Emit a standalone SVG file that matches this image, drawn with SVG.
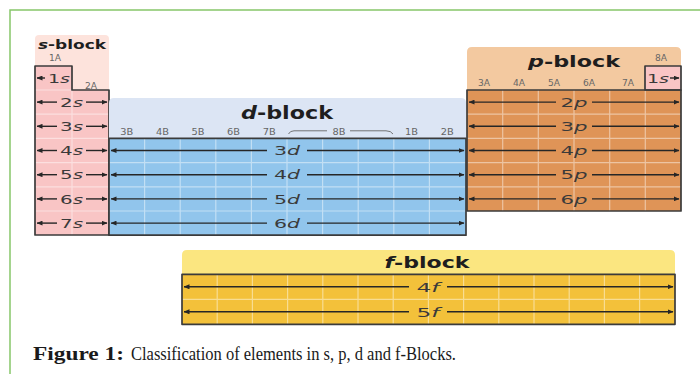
<svg xmlns="http://www.w3.org/2000/svg" width="700" height="374" viewBox="0 0 700 374">
  <style>
    .frame { fill: none; stroke: #86c66a; stroke-width: 1.5; }
    .outline { fill: none; stroke: #3b3b3b; stroke-width: 1.7; stroke-linejoin: round; }
    .grid { stroke: #ffffff; stroke-opacity: 0.45; stroke-width: 1.2; fill: none; }
    .arrow { stroke: #262626; stroke-width: 1.4; fill: none; }
    .orb { font-family: "DejaVu Sans", "Liberation Sans", sans-serif; font-size: 13px; fill: #3a3a3a; text-anchor: middle; }
    .title { font-family: "DejaVu Sans", "Liberation Sans", sans-serif; font-weight: bold; fill: #1e1e1e; text-anchor: middle; }
    .grp { font-family: "DejaVu Sans", "Liberation Sans", sans-serif; font-size: 8px; fill: #666; text-anchor: middle; }
    .it { font-style: italic; }
    .cap { font-family: "Liberation Serif", "Times New Roman", serif; font-size: 19.5px; fill: #1a1a1a; }
  </style>
  <defs>
    <marker id="head" viewBox="0 0 6 5" refX="5.5" refY="2.5" markerWidth="6" markerHeight="5" markerUnits="userSpaceOnUse" orient="auto-start-reverse">
      <path d="M0,0 L6,2.5 L0,5 z" fill="#262626"/>
    </marker>
  </defs>

  <rect width="700" height="374" fill="#ffffff"/>
  <!-- figure frame -->
  <path class="frame" d="M10,374 V10 H700"/>

  <!-- s-block -->
  <g id="s-block">
    <rect x="35" y="35" width="74" height="70" rx="4" fill="#fde3dc"/>
    <path d="M35,66 H72 V90 H109 V235 H35 Z" fill="#f9c5c5"/>
    <path class="grid" d="M72,90 V235 M35,90 H72 M35,114.2 H109 M35,138.4 H109 M35,162.6 H109 M35,186.8 H109 M35,211 H109"/>
    <path class="outline" d="M35,66 H72 V90 H109 V235 H35 Z"/>
    <text class="title" x="72" y="48.5" font-size="13" textLength="68" lengthAdjust="spacingAndGlyphs"><tspan class="it">s</tspan>-block</text>
    <text class="grp" x="55" y="61" textLength="12" lengthAdjust="spacingAndGlyphs">1A</text>
    <text class="grp" x="91" y="88.5" textLength="12" lengthAdjust="spacingAndGlyphs">2A</text>
    <text class="orb" x="59" y="82.5" textLength="22" lengthAdjust="spacingAndGlyphs">1<tspan class="it">s</tspan></text>
    <text class="orb" x="71.5" y="106.7" textLength="23" lengthAdjust="spacingAndGlyphs">2<tspan class="it">s</tspan></text>
    <text class="orb" x="71.5" y="130.9" textLength="23" lengthAdjust="spacingAndGlyphs">3<tspan class="it">s</tspan></text>
    <text class="orb" x="71.5" y="155.1" textLength="23" lengthAdjust="spacingAndGlyphs">4<tspan class="it">s</tspan></text>
    <text class="orb" x="71.5" y="179.3" textLength="23" lengthAdjust="spacingAndGlyphs">5<tspan class="it">s</tspan></text>
    <text class="orb" x="71.5" y="203.5" textLength="23" lengthAdjust="spacingAndGlyphs">6<tspan class="it">s</tspan></text>
    <text class="orb" x="71.5" y="227.7" textLength="23" lengthAdjust="spacingAndGlyphs">7<tspan class="it">s</tspan></text>
  </g>

  <!-- d-block -->
  <g id="d-block">
    <path d="M109,138.4 V103 Q109,98 114,98 H461 Q466,98 466,103 V138.4 Z" fill="#dce5f4"/>
    <rect x="109" y="138.4" width="357" height="96.8" fill="#91c5ec"/>
    <path class="grid" d="M144.6,138.4 V235.2 M180.2,138.4 V235.2 M215.8,138.4 V235.2 M251.4,138.4 V235.2 M287,138.4 V235.2 M322.6,138.4 V235.2 M358.2,138.4 V235.2 M393.8,138.4 V235.2 M429.4,138.4 V235.2 M109,162.6 H466 M109,186.8 H466 M109,211 H466"/>
    <rect class="outline" x="109" y="138.4" width="357" height="96.8"/>
    <text class="title" x="287" y="119" font-size="17.5" textLength="92" lengthAdjust="spacingAndGlyphs"><tspan class="it">d</tspan>-block</text>
    <text class="grp" x="126.8" y="135" textLength="13" lengthAdjust="spacingAndGlyphs">3B</text>
    <text class="grp" x="162.4" y="135" textLength="13" lengthAdjust="spacingAndGlyphs">4B</text>
    <text class="grp" x="198" y="135" textLength="13" lengthAdjust="spacingAndGlyphs">5B</text>
    <text class="grp" x="233.6" y="135" textLength="13" lengthAdjust="spacingAndGlyphs">6B</text>
    <text class="grp" x="269.2" y="135" textLength="13" lengthAdjust="spacingAndGlyphs">7B</text>
    <text class="grp" x="339" y="135" textLength="13" lengthAdjust="spacingAndGlyphs">8B</text>
    <text class="grp" x="411.6" y="135" textLength="13" lengthAdjust="spacingAndGlyphs">1B</text>
    <text class="grp" x="447.2" y="135" textLength="13" lengthAdjust="spacingAndGlyphs">2B</text>
    <path d="M288.5,134 Q290,130.8 294,130.8 H327 M350,130.8 H386 Q391,130.8 393,134" fill="none" stroke="#666" stroke-width="0.9"/>
    <text class="orb" x="287" y="155.2" textLength="26" lengthAdjust="spacingAndGlyphs">3<tspan class="it">d</tspan></text>
    <text class="orb" x="287" y="179.4" textLength="26" lengthAdjust="spacingAndGlyphs">4<tspan class="it">d</tspan></text>
    <text class="orb" x="287" y="203.6" textLength="26" lengthAdjust="spacingAndGlyphs">5<tspan class="it">d</tspan></text>
    <text class="orb" x="287" y="227.8" textLength="26" lengthAdjust="spacingAndGlyphs">6<tspan class="it">d</tspan></text>
  </g>

  <!-- p-block -->
  <g id="p-block">
    <path d="M467,90 V52 Q467,47 472,47 H676 Q681,47 681,52 V90 Z" fill="#f3c9a0"/>
    <rect x="467" y="90" width="214" height="121" fill="#df9457"/>
    <rect x="645" y="66" width="36" height="24" fill="#f9c5c5"/>
    <path class="grid" d="M502.7,90 V211 M538.3,90 V211 M574,90 V211 M609.7,90 V211 M645.3,90 V211 M467,114.2 H681 M467,138.4 H681 M467,162.6 H681 M467,186.8 H681"/>
    <rect class="outline" x="467" y="90" width="214" height="121"/>
    <rect class="outline" x="645" y="66" width="36" height="24"/>
    <text class="title" x="574" y="66.5" font-size="15.5" textLength="92" lengthAdjust="spacingAndGlyphs"><tspan class="it">p</tspan>-block</text>
    <text class="grp" x="661" y="61" textLength="12" lengthAdjust="spacingAndGlyphs">8A</text>
    <text class="grp" x="484" y="86" textLength="12" lengthAdjust="spacingAndGlyphs">3A</text>
    <text class="grp" x="519" y="86" textLength="12" lengthAdjust="spacingAndGlyphs">4A</text>
    <text class="grp" x="554" y="86" textLength="12" lengthAdjust="spacingAndGlyphs">5A</text>
    <text class="grp" x="589" y="86" textLength="12" lengthAdjust="spacingAndGlyphs">6A</text>
    <text class="grp" x="628" y="86" textLength="12" lengthAdjust="spacingAndGlyphs">7A</text>
    <text class="orb" x="658" y="82.5" textLength="22" lengthAdjust="spacingAndGlyphs">1<tspan class="it">s</tspan></text>
    <text class="orb" x="574" y="106.7" textLength="27" lengthAdjust="spacingAndGlyphs">2<tspan class="it">p</tspan></text>
    <text class="orb" x="574" y="130.9" textLength="27" lengthAdjust="spacingAndGlyphs">3<tspan class="it">p</tspan></text>
    <text class="orb" x="574" y="155.1" textLength="27" lengthAdjust="spacingAndGlyphs">4<tspan class="it">p</tspan></text>
    <text class="orb" x="574" y="179.3" textLength="27" lengthAdjust="spacingAndGlyphs">5<tspan class="it">p</tspan></text>
    <text class="orb" x="574" y="203.5" textLength="27" lengthAdjust="spacingAndGlyphs">6<tspan class="it">p</tspan></text>
  </g>

  <!-- f-block -->
  <g id="f-block">
    <path d="M182,274.3 V255 Q182,250 187,250 H670 Q675,250 675,255 V274.3 Z" fill="#fbe680"/>
    <rect x="182" y="274.3" width="493" height="50" fill="#f3c13a"/>
    <path class="grid" d="M217.2,274.3 V324.3 M252.4,274.3 V324.3 M287.6,274.3 V324.3 M322.8,274.3 V324.3 M358,274.3 V324.3 M393.2,274.3 V324.3 M428.4,274.3 V324.3 M463.6,274.3 V324.3 M498.8,274.3 V324.3 M534,274.3 V324.3 M569.2,274.3 V324.3 M604.4,274.3 V324.3 M639.6,274.3 V324.3 M182,299.3 H675"/>
    <rect class="outline" x="182" y="274.3" width="493" height="50"/>
    <text class="title" x="427" y="267.5" font-size="16" textLength="85" lengthAdjust="spacingAndGlyphs"><tspan class="it">f</tspan>-block</text>
    <text class="orb" x="428" y="291.5" textLength="23" lengthAdjust="spacingAndGlyphs">4<tspan class="it">f</tspan></text>
    <text class="orb" x="428" y="316.5" textLength="23" lengthAdjust="spacingAndGlyphs">5<tspan class="it">f</tspan></text>
  </g>

  <!-- orbital arrows -->
  <g id="connectors">
    <path class="arrow" d="M37,78 H45" marker-start="url(#head)"/>
    <path class="arrow" d="M37,102.1 H57" marker-start="url(#head)"/>
    <path class="arrow" d="M86,102.1 H107" marker-end="url(#head)"/>
    <path class="arrow" d="M37,126.3 H57" marker-start="url(#head)"/>
    <path class="arrow" d="M86,126.3 H107" marker-end="url(#head)"/>
    <path class="arrow" d="M37,150.5 H57" marker-start="url(#head)"/>
    <path class="arrow" d="M86,150.5 H107" marker-end="url(#head)"/>
    <path class="arrow" d="M37,174.7 H57" marker-start="url(#head)"/>
    <path class="arrow" d="M86,174.7 H107" marker-end="url(#head)"/>
    <path class="arrow" d="M37,198.9 H57" marker-start="url(#head)"/>
    <path class="arrow" d="M86,198.9 H107" marker-end="url(#head)"/>
    <path class="arrow" d="M37,223.1 H57" marker-start="url(#head)"/>
    <path class="arrow" d="M86,223.1 H107" marker-end="url(#head)"/>

    <path class="arrow" d="M111,150.5 H267" marker-start="url(#head)"/>
    <path class="arrow" d="M307,150.5 H464" marker-end="url(#head)"/>
    <path class="arrow" d="M111,174.7 H267" marker-start="url(#head)"/>
    <path class="arrow" d="M307,174.7 H464" marker-end="url(#head)"/>
    <path class="arrow" d="M111,198.9 H267" marker-start="url(#head)"/>
    <path class="arrow" d="M307,198.9 H464" marker-end="url(#head)"/>
    <path class="arrow" d="M111,223.1 H267" marker-start="url(#head)"/>
    <path class="arrow" d="M307,223.1 H464" marker-end="url(#head)"/>

    <path class="arrow" d="M670,78 H679" marker-end="url(#head)"/>
    <path class="arrow" d="M469,102.1 H556" marker-start="url(#head)"/>
    <path class="arrow" d="M592,102.1 H679" marker-end="url(#head)"/>
    <path class="arrow" d="M469,126.3 H556" marker-start="url(#head)"/>
    <path class="arrow" d="M592,126.3 H679" marker-end="url(#head)"/>
    <path class="arrow" d="M469,150.5 H556" marker-start="url(#head)"/>
    <path class="arrow" d="M592,150.5 H679" marker-end="url(#head)"/>
    <path class="arrow" d="M469,174.7 H556" marker-start="url(#head)"/>
    <path class="arrow" d="M592,174.7 H679" marker-end="url(#head)"/>
    <path class="arrow" d="M469,198.9 H556" marker-start="url(#head)"/>
    <path class="arrow" d="M592,198.9 H679" marker-end="url(#head)"/>

    <path class="arrow" d="M184,286.8 H409" marker-start="url(#head)"/>
    <path class="arrow" d="M447,286.8 H673" marker-end="url(#head)"/>
    <path class="arrow" d="M184,311.8 H409" marker-start="url(#head)"/>
    <path class="arrow" d="M447,311.8 H673" marker-end="url(#head)"/>
  </g>

  <!-- caption -->
  <g id="caption">
    <text class="cap" x="33" y="360" font-weight="bold" font-size="20.5" textLength="91" lengthAdjust="spacingAndGlyphs">Figure 1:</text>
    <text class="cap" x="131" y="360" textLength="325" lengthAdjust="spacingAndGlyphs">Classification of elements in s, p, d and f-Blocks.</text>
  </g>
</svg>
